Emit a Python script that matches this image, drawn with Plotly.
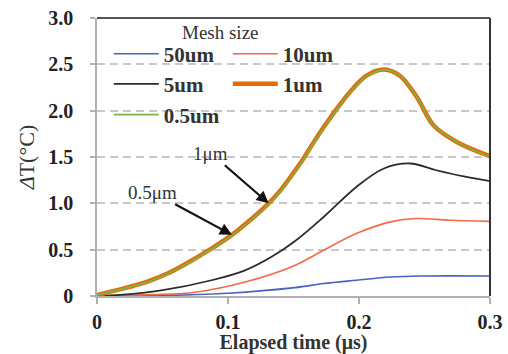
import plotly.graph_objects as go

# Temperature rise vs elapsed time for several mesh sizes
x_50 = [0, 0.05, 0.1, 0.151, 0.173, 0.198, 0.224, 0.249, 0.3]
y_50 = [0, 0.005, 0.03, 0.09, 0.134, 0.17, 0.205, 0.216, 0.216]

x_10 = [0, 0.04, 0.075, 0.113, 0.151, 0.173, 0.198, 0.224, 0.244, 0.269, 0.3]
y_10 = [0, 0.015, 0.04, 0.15, 0.33, 0.494, 0.674, 0.80, 0.836, 0.817, 0.805]

x_5 = [0, 0.025, 0.049, 0.0875, 0.113, 0.133, 0.151, 0.173, 0.198, 0.219, 0.239, 0.259, 0.28, 0.3]
y_5 = [0, 0.02, 0.06, 0.17, 0.277, 0.42, 0.59, 0.853, 1.177, 1.376, 1.43, 1.357, 1.29, 1.24]

x_1 = [0, 0.024, 0.04, 0.055, 0.072, 0.086, 0.103, 0.117, 0.131, 0.14, 0.148, 0.157, 0.165,
       0.173, 0.182, 0.193, 0.206, 0.219, 0.231, 0.244, 0.257, 0.275, 0.3]
y_1 = [0.01, 0.095, 0.162, 0.25, 0.38, 0.5, 0.66, 0.82, 1.0, 1.14, 1.29, 1.47, 1.65,
       1.82, 2.0, 2.2, 2.38, 2.445, 2.38, 2.15, 1.84, 1.66, 1.51]

x_05 = x_1
y_05 = [0.01, 0.093, 0.159, 0.246, 0.375, 0.494, 0.654, 0.812, 0.99, 1.13, 1.28, 1.46, 1.64,
        1.81, 1.99, 2.19, 2.37, 2.44, 2.38, 2.15, 1.84, 1.66, 1.50]

x_ticks = [0, 0.1, 0.2, 0.3]
x_tick_text = ["0", "0.1", "0.2", "0.3"]
y_ticks = [0, 0.5, 1.0, 1.5, 2.0, 2.5, 3.0]
y_tick_text = ["0", "0.5", "1.0", "1.5", "2.0", "2.5", "3.0"]

SERIF = "Liberation Serif, Times New Roman, serif"

fig = go.Figure()

def add(xs, ys, name, color, width, legend):
    fig.add_trace(go.Scatter(
        x=xs, y=ys, mode="lines", name=name, legend=legend,
        line=dict(color=color, width=width, shape="spline", smoothing=1.0),
    ))

add(x_50, y_50, "50um", "#4a62c4", 1.6, "legend")
add(x_10, y_10, "10um", "#f26a47", 1.6, "legend")
add(x_5, y_5, "5um", "#2b2b2b", 1.8, "legend2")
add(x_1, y_1, "1um", "#e46c0a", 4.5, "legend2")
add(x_05, y_05, "0.5um", "#79b548", 1.6, "legend3")

legend_common = dict(
    orientation="h", xanchor="left", yanchor="middle",
    bgcolor="rgba(0,0,0,0)", entrywidthmode="pixels",
    itemwidth=45,
    font=dict(family=SERIF, size=21, color="#333333", weight="bold"),
    tracegroupgap=0, traceorder="normal",
)
fig.update_layout(
    legend=dict(x=0.03, y=0.87, entrywidth=59, **legend_common),
    legend2=dict(x=0.03, y=0.762, entrywidth=59, **legend_common),
    legend3=dict(x=0.03, y=0.651, entrywidth=100, **legend_common),
)

fig.update_xaxes(
    range=[0, 0.3], tickvals=x_ticks, ticktext=x_tick_text,
    showgrid=False, zeroline=False, automargin=False,
    showline=True, linecolor="#b0b0b0", linewidth=2,
    ticks="outside", ticklen=6, tickcolor="#b0b0b0", tickwidth=1.5,
    ticklabelstandoff=1,
    tickfont=dict(family=SERIF, size=20, color="#222222", weight="bold"),
    title=dict(text="Elapsed time (μs)", standoff=2,
               font=dict(family=SERIF, size=20, color="#333333", weight="bold")),
)
fig.update_yaxes(
    range=[0, 3.0], tickvals=y_ticks, ticktext=y_tick_text,
    showgrid=True, gridcolor="#c8c8c8", gridwidth=2, griddash="8px,5px",
    zeroline=False, automargin=False,
    showline=True, linecolor="#b0b0b0", linewidth=1.5,
    ticks="outside", ticklen=5, tickcolor="#b0b0b0", tickwidth=1.5,
    ticklabelstandoff=13,
    tickfont=dict(family=SERIF, size=20, color="#222222", weight="bold"),
    title=dict(text="<i>Δ</i>T(°C)", standoff=8,
               font=dict(family=SERIF, size=22, color="#333333")),
)

# dark frame on top and right edges
fig.add_shape(type="line", xref="paper", yref="paper", x0=0, x1=1, y0=1, y1=1,
              line=dict(color="#555555", width=2))
fig.add_shape(type="line", xref="paper", yref="paper", x0=1, x1=1, y0=0, y1=1,
              line=dict(color="#333333", width=2))

fig.add_annotation(xref="paper", yref="paper", x=0.313, y=0.949, xanchor="center",
                   yanchor="middle", text="Mesh size", showarrow=False,
                   font=dict(family=SERIF, size=19, color="#333333"))

arrow_style = dict(showarrow=True, arrowhead=2, arrowsize=1.1, arrowwidth=2.2,
                   arrowcolor="#111111", axref="x", ayref="y",
                   font=dict(family=SERIF, size=19, color="#333333"))
fig.add_annotation(x=0.131, y=1.0, ax=0.087, ay=1.54, text="1μm", **arrow_style)
fig.add_annotation(x=0.103, y=0.66, ax=0.0427, ay=1.12, text="0.5μm", **arrow_style)

fig.update_layout(
    width=508, height=354,
    margin=dict(l=97, r=18, t=18, b=58),
    plot_bgcolor="white", paper_bgcolor="white",
    showlegend=True,
)

fig.write_html("out.html")
